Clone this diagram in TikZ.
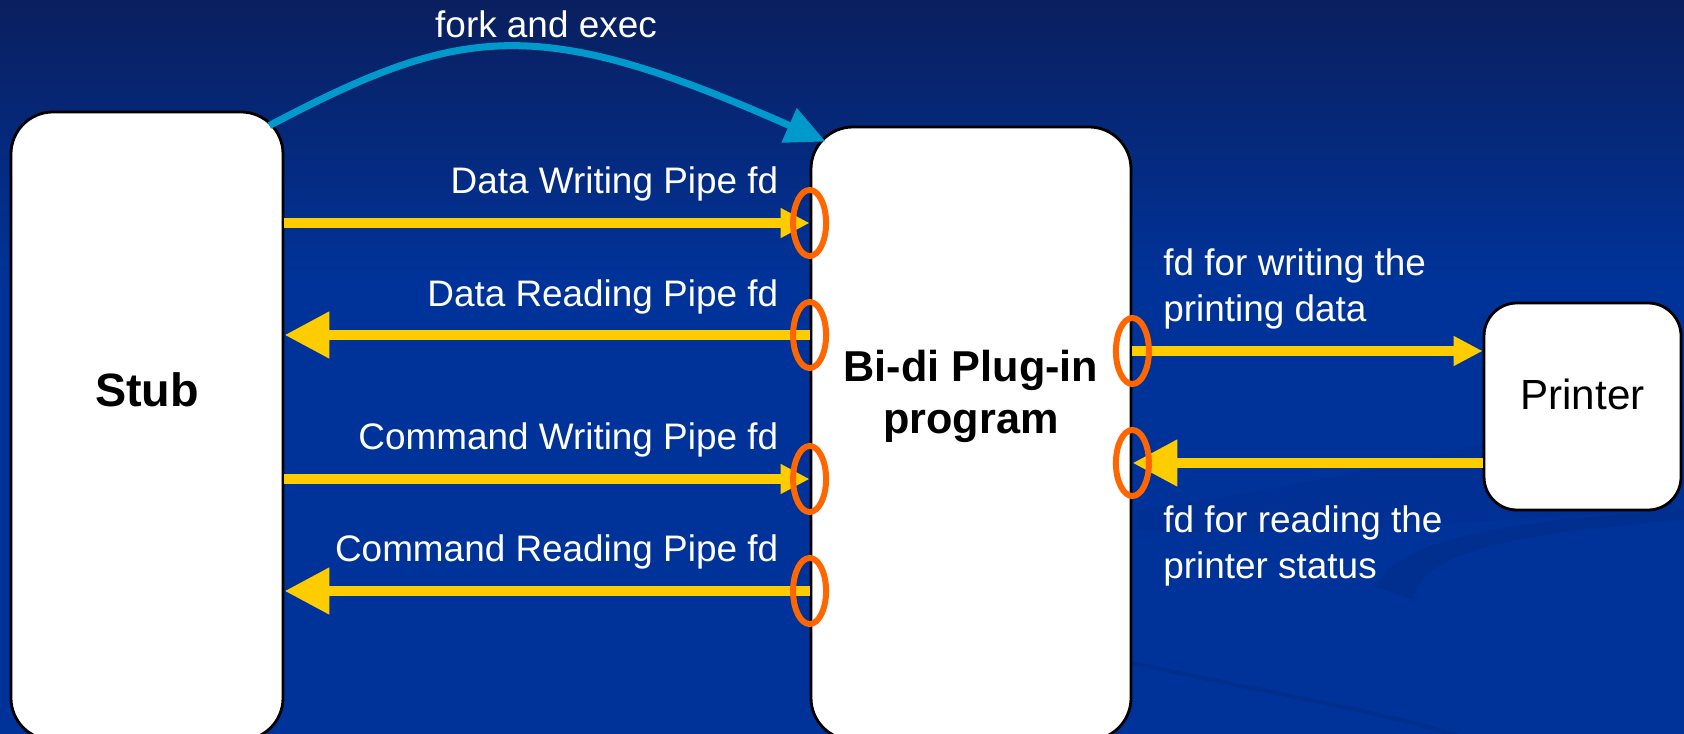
\documentclass[tikz,border=0pt]{standalone}
\usepackage{fontspec}
\setmainfont{Liberation Sans}
\usetikzlibrary{arrows.meta, positioning, calc}
\definecolor{navyTop}{HTML}{0A1F5E}
\definecolor{slideBlue}{HTML}{003399}
\definecolor{swooshDark}{HTML}{00277A}
\definecolor{pipeYellow}{HTML}{FFCC00}
\definecolor{forkBlue}{HTML}{0099CC}
\definecolor{portOrange}{HTML}{FF6600}
\def\W{16.84}
\def\H{7.34}

\begin{document}
\begin{tikzpicture}[
    every node/.style={font=\fontsize{10.5}{13}\selectfont, text=white},
    box/.style={draw=black, line width=0.8pt, fill=white,
                rounded corners=4.2mm, inner sep=0pt},
    title/.style={font=\bfseries\fontsize{12.3}{14.8}\selectfont,
                  text=black, align=center},
    lbl/.style={align=left},
    pipe/.style={draw=pipeYellow, line width=3.1pt,
                 -{Triangle[length=2.9mm,width=2.8mm]}},
    pipeback/.style={draw=pipeYellow, line width=3.1pt,
                     -{Triangle[length=4.5mm,width=4.4mm]}},
    fork/.style={draw=forkBlue, line width=2pt,
                 -{Triangle[length=4mm,width=3.6mm]}},
    port/.style={draw=portOrange, line width=1.7pt},
    ]

\useasboundingbox (0,0) rectangle (\W,-\H);
\clip (0,0) rectangle (\W,-\H);

% ====================================================================
% Slide background
% ====================================================================
\shade[top color=navyTop, bottom color=slideBlue]
  (0,0) rectangle (\W,-2.8);
\fill[slideBlue] (0,-2.8) rectangle (\W,-\H);
% faint swooshes, lower right
\fill[swooshDark, opacity=0.3]
  (13.76,-5.87) .. controls (13.9,-5.45) and (14.9,-5.2) .. (\W,-5.1)
  -- (\W,-5.2) .. controls (15.0,-5.35) and (14.2,-5.55) .. (14.13,-6.0)
  -- cycle;
\fill[swooshDark, opacity=0.18]
  (11.37,-5.1) .. controls (13.0,-4.85) and (15.0,-4.5) .. (15.9,-4.05)
  -- (\W,-4.05) -- (\W,-5.1)
  .. controls (14.6,-5.2) and (13.0,-5.4) .. (11.37,-5.3) -- cycle;
\draw[swooshDark, line width=1.2pt, opacity=0.4]
  (11.33,-6.63) .. controls (12.5,-6.9) and (13.8,-7.1) .. (14.72,-7.4);

% ====================================================================
% Boxes
% ====================================================================
\node[box, minimum width=2.72cm, minimum height=6.28cm]
  (stub) at (1.47,-4.26) {};
\node[box, minimum width=3.20cm, minimum height=6.13cm]
  (bidi) at (9.71,-4.335) {};
\node[box, rounded corners=3.3mm, minimum width=1.97cm,
      minimum height=2.07cm] (printer) at (15.825,-4.065) {};

\node[title, font=\bfseries\fontsize{13.3}{15}\selectfont]
  (stubtxt) at (stub.center |- 0,-3.9) {Stub};
\node[title] (biditxt) at (bidi.center |- 0,-3.96) {Bi-di Plug-in\\program};
\node[text=black, font=\fontsize{12}{14}\selectfont]
  (printertxt) at (printer.center |- 0,-3.94) {Printer};

% ====================================================================
% Pipe fds
% ====================================================================
\coordinate (dw) at (bidi.west |- 0,-2.23);
\coordinate (dr) at (bidi.west |- 0,-3.35);
\coordinate (cw) at (bidi.west |- 0,-4.79);
\coordinate (cr) at (bidi.west |- 0,-5.91);
\coordinate (pw) at (bidi.east |- 0,-3.51);
\coordinate (pr) at (bidi.east |- 0,-4.63);

\draw[pipe]     (stub.east |- dw) -- (dw);
\draw[pipeback] (dr) -- (stub.east |- dr);
\draw[pipe]     (stub.east |- cw) -- (cw);
\draw[pipeback] (cr) -- (stub.east |- cr);
\draw[pipe]     (pw) -- (printer.west |- pw);
\draw[pipeback] (printer.west |- pr) -- (pr);

\foreach \p in {dw,dr,cw,cr,pw,pr}
  \draw[port] (\p) ellipse [x radius=0.165, y radius=0.33];

\node[anchor=east] (dwl) at ($(dw)+(-0.19,0.39)$) {Data Writing Pipe fd};
\node[anchor=east] (drl) at ($(dr)+(-0.19,0.38)$) {Data Reading Pipe fd};
\node[anchor=east] (cwl) at ($(cw)+(-0.19,0.39)$) {Command Writing Pipe fd};
\node[anchor=east] (crl) at ($(cr)+(-0.19,0.39)$) {Command Reading Pipe fd};
\node[lbl, anchor=west] (pwl) at (11.51,-2.89)
  {fd for writing the\\printing data};
\node[lbl, anchor=west] (prl) at (11.51,-5.46)
  {fd for reading the\\printer status};

% ====================================================================
% fork and exec
% ====================================================================
\coordinate (forkA) at ($(stub.north east)+(-0.15,-0.15)$);
\coordinate (forkB) at ($(bidi.north west)+(0.16,-0.16)$);
\draw[fork] (forkA) .. controls (4.62,-0.24) and (5.38,-0.14) .. (forkB);
\node (forktxt) at (5.46,-0.24) {fork and exec};

\end{tikzpicture}
\end{document}
